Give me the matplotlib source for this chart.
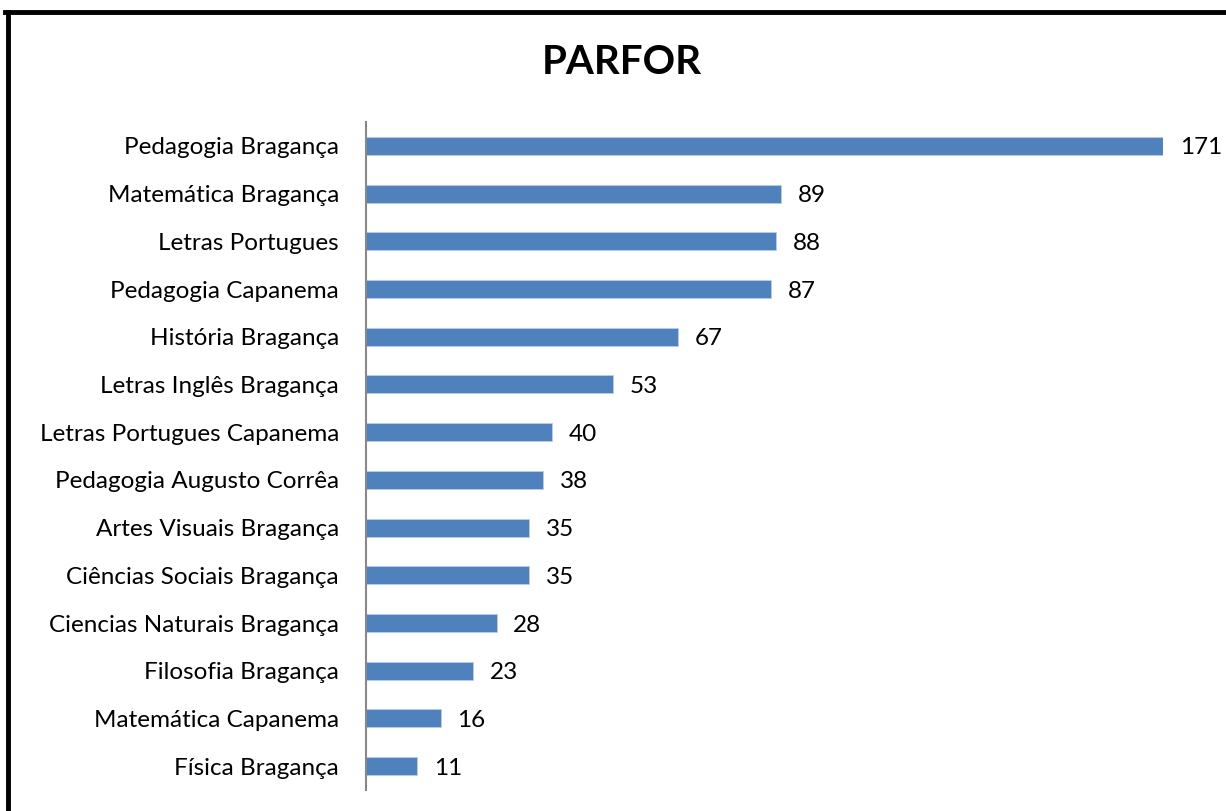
import matplotlib
matplotlib.use("Agg")
import matplotlib.pyplot as plt
from matplotlib.lines import Line2D

categories = [
    "Pedagogia Bragança",
    "Matemática Bragança",
    "Letras Portugues",
    "Pedagogia Capanema",
    "História Bragança",
    "Letras Inglês Bragança",
    "Letras Portugues Capanema",
    "Pedagogia Augusto Corrêa",
    "Artes Visuais Bragança",
    "Ciências Sociais Bragança",
    "Ciencias Naturais Bragança",
    "Filosofia Bragança",
    "Matemática Capanema",
    "Física Bragança",
]
values = [171, 89, 88, 87, 67, 53, 40, 38, 35, 35, 28, 23, 16, 11]
title = "PARFOR"

plt.rcParams['font.family'] = ['Lato', 'DejaVu Sans']

fig = plt.figure(figsize=(12.26, 8.11), dpi=100)
ax = fig.add_axes([366/1226, 1-790/811, (1163-366)/1226, (790-122)/811])

y = list(range(len(categories)))
ax.barh(y, values, height=0.38, color="#4F81BD", edgecolor="#B9CDE5", linewidth=0.6)
ax.set_ylim(len(categories)-0.5, -0.5)
ax.set_xlim(0, max(values))
ax.set_yticks(y)
ax.set_yticklabels(categories, fontsize=17.5, va="center_baseline")
ax.tick_params(axis='y', length=0, pad=19.5)
ax.set_xticks([])
for s in ["top", "right", "bottom"]:
    ax.spines[s].set_visible(False)
ax.spines["left"].set_color("#888888")
ax.spines["left"].set_linewidth(1.5)

for yi, v in zip(y, values):
    ax.annotate(str(v), xy=(v, yi), xytext=(12, 0), textcoords="offset points",
                ha="left", va="center_baseline", fontsize=17.5, annotation_clip=False)

fig.text(622/1226, 1-63/811, title, ha="center", va="center", fontsize=29, fontweight="bold")

# outer border (top and left visible)
fig.add_artist(Line2D([7.5/1226, 7.5/1226], [0, 1-11.5/811], transform=fig.transFigure, color="black", linewidth=3.5))
fig.add_artist(Line2D([5.5/1226, 1], [1-11.5/811, 1-11.5/811], transform=fig.transFigure, color="black", linewidth=3.5))

fig.savefig("out.png", dpi=100, facecolor="white")
